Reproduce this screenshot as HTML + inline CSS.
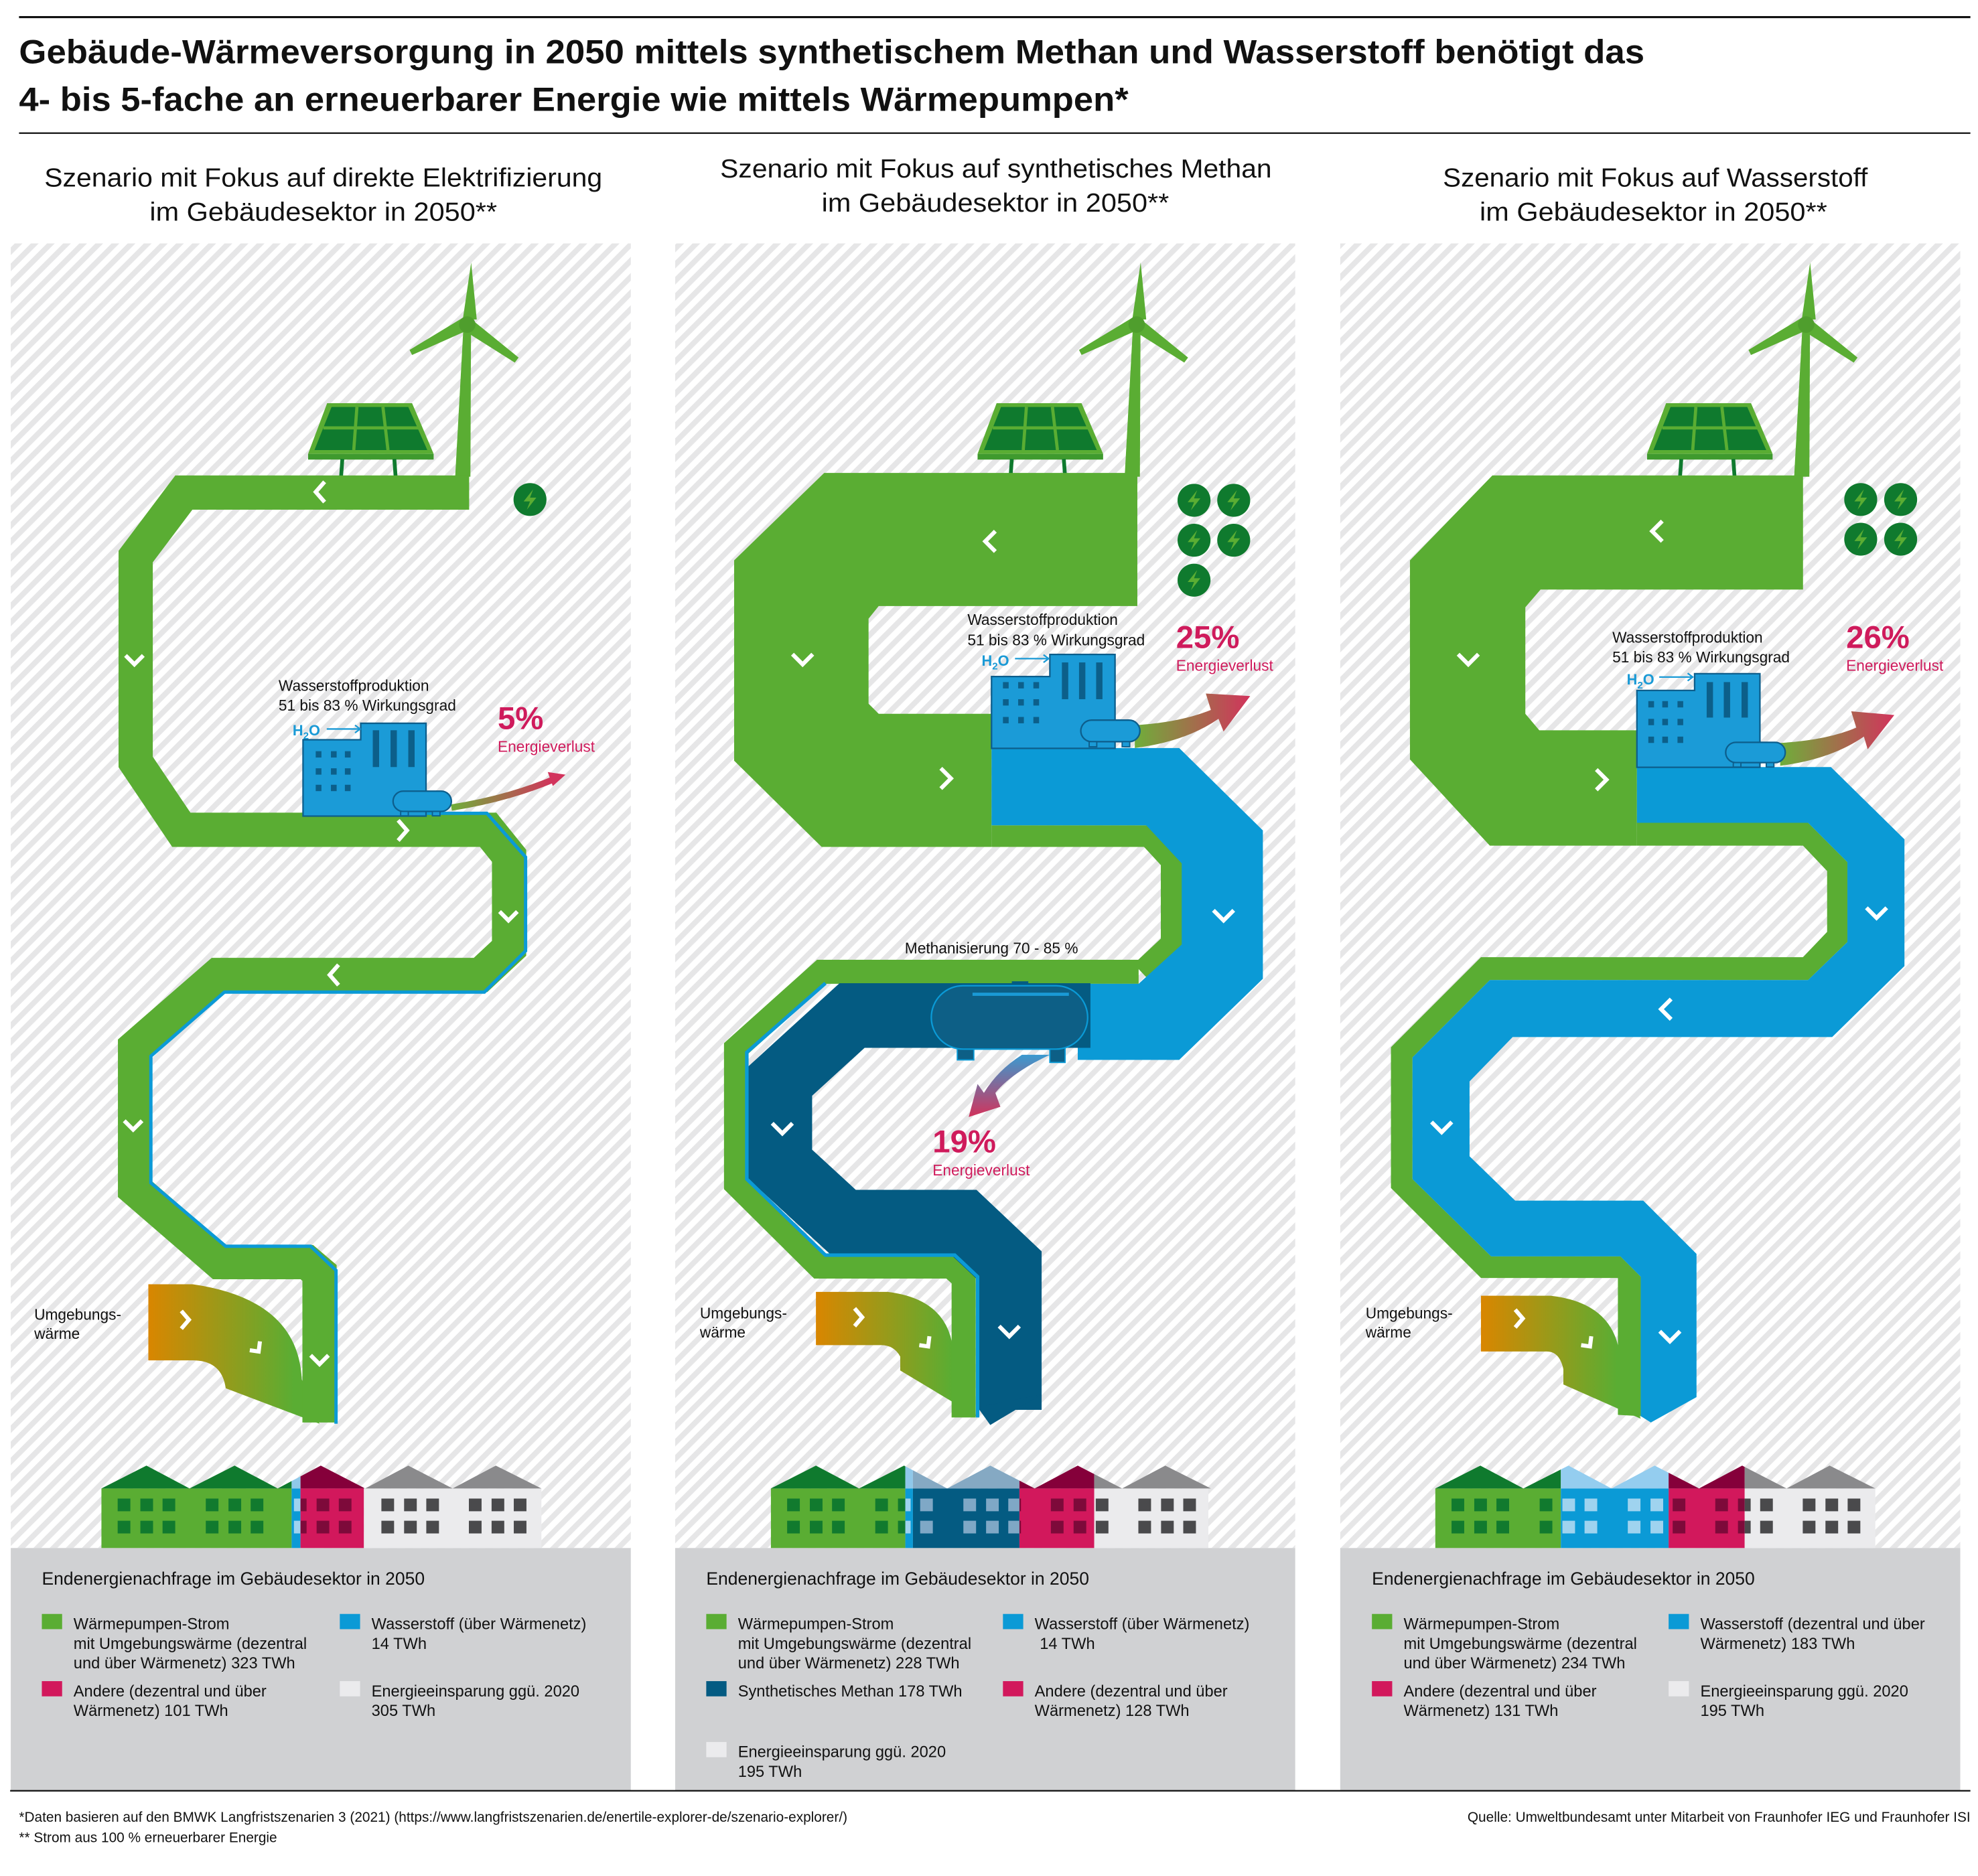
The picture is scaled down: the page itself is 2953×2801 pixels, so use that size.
<!DOCTYPE html>
<html><head><meta charset="utf-8">
<style>
html,body{margin:0;padding:0;background:#fff;}
svg{display:block;}
text{font-family:"Liberation Sans",sans-serif;}
</style></head>
<body>
<svg width="2953" height="2801" viewBox="0 0 1560 1479.7" xmlns="http://www.w3.org/2000/svg">
<defs>
<pattern id="hatch" patternUnits="userSpaceOnUse" width="9" height="9" patternTransform="rotate(45)">
<rect width="9" height="9" fill="#ffffff"/><rect width="4.3" height="9" fill="#e6e6e7"/>
</pattern>
<linearGradient id="umg" x1="0" y1="0" x2="1" y2="0"><stop offset="0" stop-color="#d98600"/><stop offset="0.85" stop-color="#5aad33"/></linearGradient>
<linearGradient id="loss" x1="0" y1="0" x2="1" y2="0"><stop offset="0" stop-color="#6fae3a"/><stop offset="1" stop-color="#d2335c"/></linearGradient>
<linearGradient id="loss2" x1="0" y1="0" x2="0" y2="1"><stop offset="0" stop-color="#3a9ad0"/><stop offset="1" stop-color="#d2335c"/></linearGradient>
<g id="tsol">
<polygon points="365.5,258 371.5,258 371,376 359,376" fill="#5aad33"/>
<polygon points="365,252 371.6,207 376,252" fill="#5aad33"/>
<polygon points="366,250 323,276 325,280 370,260" fill="#5aad33"/>
<polygon points="368,262 406,286 409,282 372,252" fill="#5aad33"/>
<circle cx="368.5" cy="256" r="6.5" fill="#4f9e2d"/>
<polygon points="258,318 325,318 342,358 243,358" fill="#5aad33"/>
<polygon points="261.5,321 322,321 337,355 248,355" fill="#0f7a2e"/>
<line x1="255" y1="337.5" x2="332" y2="337.5" stroke="#5aad33" stroke-width="2.5"/>
<line x1="281.5" y1="321" x2="279" y2="355" stroke="#5aad33" stroke-width="2.5"/>
<line x1="302" y1="321" x2="306" y2="355" stroke="#5aad33" stroke-width="2.5"/>
<rect x="243" y="358" width="99" height="4.5" fill="#3f9a2e"/>
<line x1="270" y1="362" x2="269" y2="376" stroke="#0f7a2e" stroke-width="3"/>
<line x1="311" y1="362" x2="312" y2="376" stroke="#0f7a2e" stroke-width="3"/>
</g>
<g id="bolt">
<circle cx="0" cy="0" r="13" fill="#0f7a2e"/>
<polygon points="2.5,-8 -5,1.5 0,1.5 -2.5,8 5,-1.5 0,-1.5" fill="#5aad33"/>
</g>
<g id="win">
<rect x="12.8" y="1182" width="10" height="10"/><rect x="30.7" y="1182" width="10" height="10"/><rect x="48.2" y="1182" width="10" height="10"/>
<rect x="12.8" y="1199.5" width="10" height="10"/><rect x="30.7" y="1199.5" width="10" height="10"/><rect x="48.2" y="1199.5" width="10" height="10"/>
</g>
<g id="wins">
<use href="#win" x="80"/><use href="#win" x="149.5"/><use href="#win" x="219"/><use href="#win" x="288"/><use href="#win" x="357"/>
</g>
<polygon id="roof" points="80,1174 115.5,1156 149.5,1174 185,1156 219,1174 253,1156 288,1174 322,1156 357,1174 391,1156 427,1174"/>
<clipPath id="c1g"><rect x="70" y="1150" width="160" height="80"/></clipPath>
<clipPath id="c1b"><rect x="230" y="1150" width="7" height="80"/></clipPath>
<clipPath id="c1r"><rect x="237" y="1150" width="50" height="80"/></clipPath>
<clipPath id="c1w"><rect x="287" y="1150" width="150" height="80"/></clipPath>
<clipPath id="c2g"><rect x="70" y="1150" width="116" height="80"/></clipPath>
<clipPath id="c2b"><rect x="186" y="1150" width="6" height="80"/></clipPath>
<clipPath id="c2d"><rect x="192" y="1150" width="84" height="80"/></clipPath>
<clipPath id="c2r"><rect x="276" y="1150" width="59" height="80"/></clipPath>
<clipPath id="c2w"><rect x="335" y="1150" width="100" height="80"/></clipPath>
<clipPath id="c3g"><rect x="70" y="1150" width="109" height="80"/></clipPath>
<clipPath id="c3b"><rect x="179" y="1150" width="85" height="80"/></clipPath>
<clipPath id="c3r"><rect x="264" y="1150" width="60" height="80"/></clipPath>
<clipPath id="c3w"><rect x="324" y="1150" width="110" height="80"/></clipPath>
</defs>

<line x1="15" y1="13.5" x2="1554" y2="13.5" stroke="#111" stroke-width="1.6"/>
<text x="15" y="50" font-size="26.5" font-weight="bold" fill="#111" textLength="1282" lengthAdjust="spacingAndGlyphs">Gebäude-Wärmeversorgung in 2050 mittels synthetischem Methan und Wasserstoff benötigt das</text>
<text x="15" y="87.5" font-size="26.5" font-weight="bold" fill="#111" textLength="875" lengthAdjust="spacingAndGlyphs">4- bis 5-fache an erneuerbarer Energie wie mittels Wärmepumpen*</text>
<line x1="15" y1="105" x2="1554" y2="105" stroke="#111" stroke-width="1.2"/>

<g font-size="20.5" fill="#111">
<text x="35" y="147" textLength="440" lengthAdjust="spacingAndGlyphs">Szenario mit Fokus auf direkte Elektrifizierung</text>
<text x="118" y="174" textLength="274" lengthAdjust="spacingAndGlyphs">im Gebäudesektor in 2050**</text>
<text x="568" y="140" textLength="435" lengthAdjust="spacingAndGlyphs">Szenario mit Fokus auf synthetisches Methan</text>
<text x="648" y="167" textLength="274" lengthAdjust="spacingAndGlyphs">im Gebäudesektor in 2050**</text>
<text x="1138" y="147" textLength="335" lengthAdjust="spacingAndGlyphs">Szenario mit Fokus auf Wasserstoff</text>
<text x="1167" y="174" textLength="274" lengthAdjust="spacingAndGlyphs">im Gebäudesektor in 2050**</text>
</g>

<rect x="8.5" y="192" width="489" height="1029" fill="url(#hatch)"/>
<rect x="532.5" y="192" width="489" height="1029" fill="url(#hatch)"/>
<rect x="1057" y="192" width="489" height="1029" fill="url(#hatch)"/>
<rect x="8.5" y="1221" width="489" height="191" fill="#d0d1d3"/>
<rect x="532.5" y="1221" width="489" height="191" fill="#d0d1d3"/>
<rect x="1057" y="1221" width="489" height="191" fill="#d0d1d3"/>

<!-- PANEL 1 -->
<use href="#tsol"/>
<path d="M117,1013 L152,1013 Q235,1025 238,1088 L252,1123 L178,1095 Q175,1073 152,1073 L117,1073 Z" fill="url(#umg)"/>
<polyline points="370,388.5 145,388.5 107,439 107,601 143,654.5 385,654.5 401.5,675 401.5,748 379,769 172,769 106.5,826 106.5,938 173,995.5 242,995.5 252,1004 252,1122" fill="none" stroke="#5aad33" stroke-width="27" stroke-linejoin="miter"/>
<polyline points="330,641.5 384,641.5 414.5,676 414.5,750 382,782.5 177,782.5 119,833 119,933 178,983 245,983 265,1002 265,1123" fill="none" stroke="#0b9ad6" stroke-width="2.6"/>
<use href="#bolt" x="418" y="394"/>
<path d="M239,583.5 L284.5,583.5 L284.5,570.5 L336,570.5 L336,643.7 L239,643.7 Z" fill="#1b9bd7" stroke="#0d5e8c" stroke-width="1.2"/>
<g fill="#0c5f8a">
<rect x="249" y="592.5" width="4.5" height="5"/><rect x="261" y="592.5" width="4.5" height="5"/><rect x="272" y="592.5" width="4.5" height="5"/>
<rect x="249" y="606" width="4.5" height="5"/><rect x="261" y="606" width="4.5" height="5"/><rect x="272" y="606" width="4.5" height="5"/>
<rect x="249" y="619" width="4.5" height="5"/><rect x="261" y="619" width="4.5" height="5"/><rect x="272" y="619" width="4.5" height="5"/>
<rect x="294" y="576" width="5" height="29"/><rect x="308" y="576" width="5" height="29"/><rect x="322" y="576" width="5" height="29"/>
</g>
<path d="M356,637 Q400,630 436,615" fill="none" stroke="url(#loss)" stroke-width="5"/>
<polygon points="432,609 446,611 436,620" fill="#d2335c"/>
<rect x="310" y="624" width="46" height="16" rx="8" fill="#1b9bd7" stroke="#0d5e8c" stroke-width="1.2"/>
<rect x="316" y="640" width="6" height="3.5" fill="#1b9bd7" stroke="#0d5e8c" stroke-width="1"/>
<rect x="341" y="640" width="6" height="3.5" fill="#1b9bd7" stroke="#0d5e8c" stroke-width="1"/>
<text x="219.7" y="545" font-size="12" fill="#111">Wasserstoffproduktion</text>
<text x="219.7" y="560.5" font-size="12" fill="#111">51 bis 83 % Wirkungsgrad</text>
<text x="230.8" y="580" font-size="11.5" font-weight="bold" fill="#1a9ad6">H<tspan font-size="8" dy="3">2</tspan><tspan dy="-3">O</tspan></text>
<line x1="257.7" y1="575" x2="283" y2="575" stroke="#1a9ad6" stroke-width="1.2"/><polyline points="280,572 284,575 280,578" fill="none" stroke="#1a9ad6" stroke-width="1.2"/>
<text x="392.5" y="575" font-size="25" font-weight="bold" fill="#cf1b5c">5%</text>
<text x="392.5" y="593" font-size="12" fill="#cf1b5c">Energieverlust</text>
<text x="27" y="1041" font-size="12" fill="#111">Umgebungs-</text>
<text x="27" y="1056" font-size="12" fill="#111">wärme</text>
<g fill="none" stroke="#fff" stroke-width="3.2">
<polyline points="256,380 249,388 256,396"/>
<polyline points="99,517 106,524 113,517"/>
<polyline points="314,647 321,655 314,663"/>
<polyline points="394,719 401,726 408,719"/>
<polyline points="267,761 260,769 267,777"/>
<polyline points="98,884 105,891 112,884"/>
<polyline points="143,1034 149,1041 143,1048"/>
<polyline points="245,1069 252,1076 259,1069"/>
<polyline points="205,1058 204,1066 197,1065"/>
</g>
<g>
<rect x="80" y="1174" width="150" height="47" fill="#5aad33"/>
<rect x="230" y="1174" width="7" height="47" fill="#0b9ad6"/>
<rect x="237" y="1174" width="50" height="47" fill="#d2185c"/>
<rect x="287" y="1174" width="140" height="47" fill="#ebebed"/>
<use href="#roof" fill="#0f7a2e" clip-path="url(#c1g)"/>
<use href="#roof" fill="#8fc8ea" clip-path="url(#c1b)"/>
<use href="#roof" fill="#85003a" clip-path="url(#c1r)"/>
<use href="#roof" fill="#8a8a8c" clip-path="url(#c1w)"/>
<use href="#wins" fill="#117a2e" clip-path="url(#c1g)"/>
<use href="#wins" fill="#9fd3ef" clip-path="url(#c1b)"/>
<use href="#wins" fill="#7d0a3a" clip-path="url(#c1r)"/>
<use href="#wins" fill="#4a4a4c" clip-path="url(#c1w)"/>
</g>
<g font-size="12.5" fill="#111" transform="translate(0,-5)">
<text x="33" y="1255" font-size="14">Endenergienachfrage im Gebäudesektor in 2050</text>
<rect x="33" y="1278" width="16" height="12" fill="#5aad33"/>
<text x="58" y="1290">Wärmepumpen-Strom</text><text x="58" y="1305.5">mit Umgebungswärme (dezentral</text><text x="58" y="1321">und über Wärmenetz) 323 TWh</text>
<rect x="268" y="1278" width="16" height="12" fill="#0b9ad6"/>
<text x="293" y="1290">Wasserstoff (über Wärmenetz)</text><text x="293" y="1305.5">14 TWh</text>
<rect x="33" y="1331" width="16" height="12" fill="#d2185c"/>
<text x="58" y="1343">Andere (dezentral und über</text><text x="58" y="1358.5">Wärmenetz) 101 TWh</text>
<rect x="268" y="1331" width="16" height="12" fill="#ebebed"/>
<text x="293" y="1343">Energieeinsparung ggü. 2020</text><text x="293" y="1358.5">305 TWh</text>
</g>

<!-- PANEL 2 -->
<use href="#tsol" x="528"/>
<path d="M643.5,1019 L700,1019 Q750,1025 752,1069 L770,1117 L710,1081 L710,1070 Q705,1061 695,1061 L643.5,1061 Z" fill="url(#umg)"/>
<polygon points="650,373 897,373 897,478 693,478 685,488 685,555 693,563 782,563 782,668 648,668 579,600 579,442" fill="#5aad33"/>
<polyline points="898,766.5 648,766.5 580.5,827 580.5,934 646,999 750,999 760,1008 760,1118" fill="none" stroke="#5aad33" stroke-width="19"/>
<polyline points="782,659.5 906,659.5 924,679 924,744 900,766.5" fill="none" stroke="#5aad33" stroke-width="17"/>
<polygon points="782,590 930,590 996,655 996,772 930,836 850,836 850,776 898,776 932,745 932,681 904,651 782,651" fill="#0b9ad6"/>
<polyline points="860,801 672,801 615,853 615,918 665,964 760,964 796,998 796,1112" fill="none" stroke="#045b82" stroke-width="51"/>
<polygon points="771,1110 821,1100 781,1124" fill="#045b82"/>
<polyline points="651,775.5 589,830 589,930 651,990 753,990 771,1007 771,1118" fill="none" stroke="#0b9ad6" stroke-width="2.8"/>
<g>
<use href="#bolt" x="941.7" y="394.6"/><use href="#bolt" x="973" y="394.6"/>
<use href="#bolt" x="941.7" y="426.1"/><use href="#bolt" x="973" y="426.1"/>
<use href="#bolt" x="941.7" y="457.6"/>
</g>
<path d="M782,533.6 L828,533.6 L828,516.2 L879.4,516.2 L879.4,590.3 L782,590.3 Z" fill="#1b9bd7" stroke="#0d5e8c" stroke-width="1.2"/>
<g fill="#0c5f8a">
<rect x="791" y="538" width="4.5" height="5"/><rect x="803" y="538" width="4.5" height="5"/><rect x="815" y="538" width="4.5" height="5"/>
<rect x="791" y="551.5" width="4.5" height="5"/><rect x="803" y="551.5" width="4.5" height="5"/><rect x="815" y="551.5" width="4.5" height="5"/>
<rect x="791" y="565.5" width="4.5" height="5"/><rect x="803" y="565.5" width="4.5" height="5"/><rect x="815" y="565.5" width="4.5" height="5"/>
<rect x="837.5" y="522.5" width="5" height="29"/><rect x="851" y="522.5" width="5" height="29"/><rect x="864.5" y="522.5" width="5" height="29"/>
</g>
<path d="M895,572 Q930,570 955,560 L951,547 L986,549 L965,577 L961,567 Q935,585 895,590 Z" fill="url(#loss)"/>
<rect x="852.4" y="568" width="46.6" height="17" rx="8.5" fill="#1b9bd7" stroke="#0d5e8c" stroke-width="1.2"/>
<rect x="859" y="585" width="6" height="4" fill="#1b9bd7" stroke="#0d5e8c" stroke-width="1"/>
<rect x="885" y="585" width="6" height="4" fill="#1b9bd7" stroke="#0d5e8c" stroke-width="1"/>
<text x="763" y="493" font-size="12" fill="#111">Wasserstoffproduktion</text>
<text x="763" y="509" font-size="12" fill="#111">51 bis 83 % Wirkungsgrad</text>
<text x="774.2" y="525" font-size="11.5" font-weight="bold" fill="#1a9ad6">H<tspan font-size="8" dy="3">2</tspan><tspan dy="-3">O</tspan></text>
<line x1="800.5" y1="519.5" x2="826" y2="519.5" stroke="#1a9ad6" stroke-width="1.2"/><polyline points="823,516.5 827,519.5 823,522.5" fill="none" stroke="#1a9ad6" stroke-width="1.2"/>
<text x="927.5" y="511" font-size="25" font-weight="bold" fill="#cf1b5c">25%</text>
<text x="927.5" y="529" font-size="12" fill="#cf1b5c">Energieverlust</text>
<path d="M806,832 L828,832 Q798,846 785,862 L789,873 L764,881 L771,855 L776,862 Q787,844 806,832 Z" fill="url(#loss2)"/>
<rect x="798" y="774" width="13" height="4" fill="#045b82"/>
<rect x="755" y="824" width="13" height="12" fill="#0d5f86" stroke="#0b9ad6" stroke-width="1"/>
<rect x="828" y="824" width="12" height="14" fill="#0d5f86" stroke="#0b9ad6" stroke-width="1"/>
<rect x="734.5" y="777.5" width="123.3" height="50" rx="25" fill="#0d5f86" stroke="#0b9ad6" stroke-width="1.2"/>
<line x1="767" y1="784.2" x2="843" y2="784.2" stroke="#1a9ad6" stroke-width="2.5"/>
<text x="713.6" y="752" font-size="12" fill="#111">Methanisierung 70 - 85 %</text>
<text x="735.5" y="909" font-size="25" font-weight="bold" fill="#cf1b5c">19%</text>
<text x="735.5" y="927" font-size="12" fill="#cf1b5c">Energieverlust</text>
<text x="552" y="1040" font-size="12" fill="#111">Umgebungs-</text>
<text x="552" y="1055" font-size="12" fill="#111">wärme</text>
<g fill="none" stroke="#fff" stroke-width="3.2">
<polyline points="785,419 777,427 785,435"/>
<polyline points="625,516 633,524 641,516"/>
<polyline points="742,606 750,614 742,622"/>
<polyline points="957,718 965,726 973,718"/>
<polyline points="609,886 617,894 625,886"/>
<polyline points="788,1046 796,1054 804,1046"/>
<polyline points="674,1032 680,1039 674,1046"/>
<polyline points="733,1054 732,1062 725,1061"/>
</g>
<g transform="translate(528,0)">
<rect x="80" y="1174" width="106" height="47" fill="#5aad33"/>
<rect x="186" y="1174" width="6" height="47" fill="#0b9ad6"/>
<rect x="192" y="1174" width="84" height="47" fill="#045b82"/>
<rect x="276" y="1174" width="59" height="47" fill="#d2185c"/>
<rect x="335" y="1174" width="90" height="47" fill="#ebebed"/>
<use href="#roof" fill="#0f7a2e" clip-path="url(#c2g)"/>
<use href="#roof" fill="#8fc8ea" clip-path="url(#c2b)"/>
<use href="#roof" fill="#85a9c3" clip-path="url(#c2d)"/>
<use href="#roof" fill="#85003a" clip-path="url(#c2r)"/>
<use href="#roof" fill="#8a8a8c" clip-path="url(#c2w)"/>
<use href="#wins" fill="#117a2e" clip-path="url(#c2g)"/>
<use href="#wins" fill="#9fd3ef" clip-path="url(#c2b)"/>
<use href="#wins" fill="#7fa8c6" clip-path="url(#c2d)"/>
<use href="#wins" fill="#7d0a3a" clip-path="url(#c2r)"/>
<use href="#wins" fill="#4a4a4c" clip-path="url(#c2w)"/>
</g>
<g font-size="12.5" fill="#111" transform="translate(0,-5)">
<text x="557" y="1255" font-size="14">Endenergienachfrage im Gebäudesektor in 2050</text>
<rect x="557" y="1278" width="16" height="12" fill="#5aad33"/>
<text x="582" y="1290">Wärmepumpen-Strom</text><text x="582" y="1305.5">mit Umgebungswärme (dezentral</text><text x="582" y="1321">und über Wärmenetz) 228 TWh</text>
<rect x="791" y="1278" width="16" height="12" fill="#0b9ad6"/>
<text x="816" y="1290">Wasserstoff (über Wärmenetz)</text><text x="820" y="1305.5">14 TWh</text>
<rect x="557" y="1331" width="16" height="12" fill="#045b82"/>
<text x="582" y="1343">Synthetisches Methan 178 TWh</text>
<rect x="791" y="1331" width="16" height="12" fill="#d2185c"/>
<text x="816" y="1343">Andere (dezentral und über</text><text x="816" y="1358.5">Wärmenetz) 128 TWh</text>
<rect x="557" y="1379" width="16" height="12" fill="#ebebed"/>
<text x="582" y="1391">Energieeinsparung ggü. 2020</text><text x="582" y="1406.5">195 TWh</text>
</g>

<!-- PANEL 3 -->
<use href="#tsol" x="1056"/>
<path d="M1168,1022 L1223,1022 Q1276,1028 1278,1075 L1294,1119 L1233,1092 L1233,1080 Q1230,1066 1220,1066 L1168,1066 Z" fill="url(#umg)"/>
<polygon points="1177,375 1422,375 1422,465 1215,465 1203,479 1203,563 1214,576 1291,576 1291,667 1175,667 1112,599 1112,442" fill="#5aad33"/>
<polygon points="1291,649 1426,649 1457,680 1457,743 1426,773 1175,773 1114,834 1114,930 1176,991 1278,991 1294,1007 1294,1117 1276,1116 1276,1008 1168,1008 1097,937 1097,826 1168,755 1422,755 1441,735 1441,687 1422,667 1291,667" fill="#5aad33"/>
<polygon points="1291,605 1444,605 1502,662 1502,762 1445,818 1193,818 1159,853 1159,912 1195,947 1296,947 1338,989 1338,1102 1302,1122 1294,1117 1294,1007 1278,991 1176,991 1114,930 1114,834 1175,773 1426,773 1457,743 1457,680 1426,649 1291,649" fill="#0b9ad6"/>
<g>
<use href="#bolt" x="1467.5" y="394"/><use href="#bolt" x="1499" y="394"/>
<use href="#bolt" x="1467.5" y="425.3"/><use href="#bolt" x="1499" y="425.3"/>
</g>
<path d="M1291,544.6 L1336.5,544.6 L1336.5,531.4 L1388,531.4 L1388,605.2 L1291,605.2 Z" fill="#1b9bd7" stroke="#0d5e8c" stroke-width="1.2"/>
<g fill="#0c5f8a">
<rect x="1300" y="553" width="4.5" height="5"/><rect x="1311" y="553" width="4.5" height="5"/><rect x="1323" y="553" width="4.5" height="5"/>
<rect x="1300" y="567" width="4.5" height="5"/><rect x="1311" y="567" width="4.5" height="5"/><rect x="1323" y="567" width="4.5" height="5"/>
<rect x="1300" y="581" width="4.5" height="5"/><rect x="1311" y="581" width="4.5" height="5"/><rect x="1323" y="581" width="4.5" height="5"/>
<rect x="1346" y="538" width="5" height="28"/><rect x="1359.5" y="538" width="5" height="28"/><rect x="1373.5" y="538" width="5" height="28"/>
</g>
<path d="M1404,586 Q1440,584 1464,574 L1460,561 L1494,564 L1473,591 L1470,581 Q1444,599 1404,604 Z" fill="url(#loss)"/>
<rect x="1361" y="585.5" width="47" height="16" rx="8" fill="#1b9bd7" stroke="#0d5e8c" stroke-width="1.2"/>
<rect x="1367" y="601.5" width="6" height="3.5" fill="#1b9bd7" stroke="#0d5e8c" stroke-width="1"/>
<rect x="1393" y="601.5" width="6" height="3.5" fill="#1b9bd7" stroke="#0d5e8c" stroke-width="1"/>
<text x="1271.6" y="507" font-size="12" fill="#111">Wasserstoffproduktion</text>
<text x="1271.6" y="522.5" font-size="12" fill="#111">51 bis 83 % Wirkungsgrad</text>
<text x="1283" y="540" font-size="11.5" font-weight="bold" fill="#1a9ad6">H<tspan font-size="8" dy="3">2</tspan><tspan dy="-3">O</tspan></text>
<line x1="1308.6" y1="534" x2="1334" y2="534" stroke="#1a9ad6" stroke-width="1.2"/><polyline points="1331,531 1335,534 1331,537" fill="none" stroke="#1a9ad6" stroke-width="1.2"/>
<text x="1456" y="511" font-size="25" font-weight="bold" fill="#cf1b5c">26%</text>
<text x="1456" y="529" font-size="12" fill="#cf1b5c">Energieverlust</text>
<text x="1077" y="1040" font-size="12" fill="#111">Umgebungs-</text>
<text x="1077" y="1055" font-size="12" fill="#111">wärme</text>
<g fill="none" stroke="#fff" stroke-width="3.2">
<polyline points="1311,411 1303,419 1311,427"/>
<polyline points="1150,516 1158,524 1166,516"/>
<polyline points="1259,607 1267,615 1259,623"/>
<polyline points="1472,716 1480,724 1488,716"/>
<polyline points="1318,788 1310,796 1318,804"/>
<polyline points="1129,885 1137,893 1145,885"/>
<polyline points="1309,1050 1317,1058 1325,1050"/>
<polyline points="1195,1033 1201,1040 1195,1047"/>
<polyline points="1255,1054 1254,1062 1247,1061"/>
</g>
<g transform="translate(1052,0)">
<rect x="80" y="1174" width="99" height="47" fill="#5aad33"/>
<rect x="179" y="1174" width="85" height="47" fill="#0b9ad6"/>
<rect x="264" y="1174" width="60" height="47" fill="#d2185c"/>
<rect x="324" y="1174" width="103" height="47" fill="#ebebed"/>
<use href="#roof" fill="#0f7a2e" clip-path="url(#c3g)"/>
<use href="#roof" fill="#94cdef" clip-path="url(#c3b)"/>
<use href="#roof" fill="#85003a" clip-path="url(#c3r)"/>
<use href="#roof" fill="#8a8a8c" clip-path="url(#c3w)"/>
<use href="#wins" fill="#117a2e" clip-path="url(#c3g)"/>
<use href="#wins" fill="#9fd3ef" clip-path="url(#c3b)"/>
<use href="#wins" fill="#7d0a3a" clip-path="url(#c3r)"/>
<use href="#wins" fill="#4a4a4c" clip-path="url(#c3w)"/>
</g>
<g font-size="12.5" fill="#111" transform="translate(0,-5)">
<text x="1082" y="1255" font-size="14">Endenergienachfrage im Gebäudesektor in 2050</text>
<rect x="1082" y="1278" width="16" height="12" fill="#5aad33"/>
<text x="1107" y="1290">Wärmepumpen-Strom</text><text x="1107" y="1305.5">mit Umgebungswärme (dezentral</text><text x="1107" y="1321">und über Wärmenetz) 234 TWh</text>
<rect x="1316" y="1278" width="16" height="12" fill="#0b9ad6"/>
<text x="1341" y="1290">Wasserstoff (dezentral und über</text><text x="1341" y="1305.5">Wärmenetz) 183 TWh</text>
<rect x="1082" y="1331" width="16" height="12" fill="#d2185c"/>
<text x="1107" y="1343">Andere (dezentral und über</text><text x="1107" y="1358.5">Wärmenetz) 131 TWh</text>
<rect x="1316" y="1331" width="16" height="12" fill="#ebebed"/>
<text x="1341" y="1343">Energieeinsparung ggü. 2020</text><text x="1341" y="1358.5">195 TWh</text>
</g>

<line x1="8" y1="1412.5" x2="1554" y2="1412.5" stroke="#111" stroke-width="1.2"/>
<g font-size="11" fill="#111">
<text x="15" y="1437">*Daten basieren auf den BMWK Langfristszenarien 3 (2021) (https://www.langfristszenarien.de/enertile-explorer-de/szenario-explorer/)</text>
<text x="15" y="1453">** Strom aus 100 % erneuerbarer Energie</text>
<text x="1554" y="1437" text-anchor="end">Quelle: Umweltbundesamt unter Mitarbeit von Fraunhofer IEG und Fraunhofer ISI</text>
</g>
</svg>
</body></html>
